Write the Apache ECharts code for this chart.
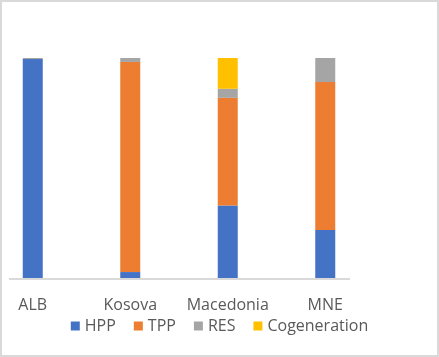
<html>
<head>
    <meta http-equiv="Content-Type" content="text/html; charset=utf-8"/>
    <title>Generation mix</title>
    <style type="text/css">
        body {
            margin: 0px;
            padding: 0px;
            background: white;
        }
        #chart {
            width: 439px;
            height: 357px;
            box-sizing: border-box;
            border: 2px solid #d9d9d9;
        }
    </style>
    <script type="text/javascript" src="https://cdn.jsdelivr.net/npm/echarts@6/dist/echarts.min.js"></script>
</head>
<body>
<div id="chart"></div>
<script type="text/javascript">
    var categories = ['ALB', 'Kosova', 'Macedonia', 'MNE'];
    var hpp = [99.5, 2.7, 32.9, 21.8];
    var tpp = [0, 95.5, 49.0, 67.3];
    var res = [0.5, 1.8, 4.1, 10.9];
    var cogeneration = [0, 0, 14.0, 0];

    var textColor = '#595959';
    var fontFamily = '"Open Sans", sans-serif';

    function bar(name, data, color) {
        return {
            name: name,
            type: 'bar',
            stack: 'total',
            barWidth: 20,
            itemStyle: {color: color},
            data: data
        };
    }

    var myChart = echarts.init(document.getElementById('chart'));
    myChart.setOption({
        animation: false,
        textStyle: {fontFamily: fontFamily},
        grid: {
            left: -18,
            top: 56,
            width: 390,
            height: 220,
            containLabel: false,
            outerBoundsMode: 'none'
        },
        legend: {
            top: 311,
            left: 'center',
            icon: 'rect',
            itemWidth: 9,
            itemHeight: 9,
            itemGap: 18,
            textStyle: {color: textColor, fontSize: 16, fontFamily: fontFamily},
            data: ['HPP', 'TPP', 'RES', 'Cogeneration']
        },
        xAxis: {
            type: 'category',
            data: categories,
            axisLine: {show: false},
            axisTick: {show: false},
            axisLabel: {color: textColor, fontSize: 16, margin: 19, interval: 0, fontFamily: fontFamily}
        },
        yAxis: {
            type: 'value',
            min: 0,
            max: 100,
            show: false
        },
        // category baseline, drawn shorter than the grid like the original
        graphic: [{
            type: 'line',
            shape: {x1: 7, y1: 277, x2: 348, y2: 277},
            style: {stroke: '#d9d9d9', lineWidth: 2},
            z: 10
        }],
        series: [
            bar('HPP', hpp, '#4472c4'),
            bar('TPP', tpp, '#ed7d31'),
            bar('RES', res, '#a5a5a5'),
            bar('Cogeneration', cogeneration, '#ffc000')
        ]
    });
</script>
</body>
</html>
